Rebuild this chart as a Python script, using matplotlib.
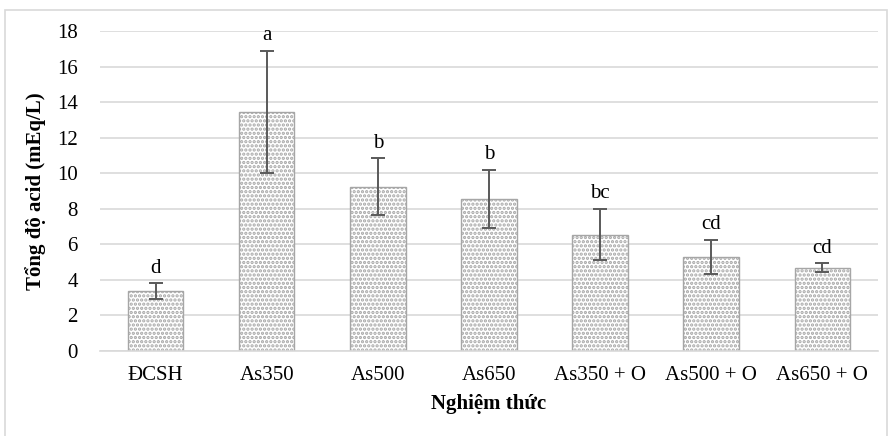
import matplotlib
matplotlib.use("Agg")
import matplotlib.pyplot as plt
from matplotlib.patches import Rectangle

# data
treatments = ["ĐCSH", "As350", "As500", "As650", "As350 + O", "As500 + O", "As650 + O"]
means = [3.35, 13.45, 9.25, 8.55, 6.55, 5.3, 4.68]
errors = [0.45, 3.45, 1.6, 1.65, 1.45, 0.97, 0.25]
letters = ["d", "a", "b", "b", "bc", "cd", "cd"]
yticks = [0, 2, 4, 6, 8, 10, 12, 14, 16, 18]

GRID = "#d9d9d9"
ERR = "#595959"

plt.rcParams["font.family"] = ["Liberation Serif", "DejaVu Serif"]
plt.rcParams["hatch.color"] = "#1a1a1a"
plt.rcParams["hatch.linewidth"] = 1.6

fig = plt.figure(figsize=(8.89, 4.36), dpi=100)
ax = fig.add_axes([0.1125, 0.195, 0.875, 0.734])

# outer chart border (cut off at the bottom in the reference)
fig.patches.append(Rectangle((5 / 889, -0.1), 882 / 889, 1.1 - 10 / 436,
                             transform=fig.transFigure, fill=False,
                             edgecolor=GRID, linewidth=1.2, zorder=0))

x = range(len(treatments))
ax.bar(x, means, width=0.5, color="white", edgecolor="#a6a6a6",
       linewidth=1.0, hatch="....", zorder=2)
ax.errorbar(x, means, yerr=errors, fmt="none", ecolor=ERR, elinewidth=1.4,
            capsize=5, capthick=1.4, zorder=3)

for xi, m, e, lab in zip(x, means, errors, letters):
    ax.text(xi, m + e + 0.3, lab, ha="center", va="bottom", fontsize=15)

ax.set_xlim(-0.5, len(treatments) - 0.5)
ax.set_ylim(0, 18)
ax.set_yticks(yticks)
ax.set_xticks(list(x))
ax.set_xticklabels(treatments)
ax.tick_params(axis="both", length=0, labelsize=15)
ax.tick_params(axis="x", pad=11)
ax.tick_params(axis="y", pad=16)
ax.yaxis.grid(True, color=GRID, linewidth=1.2, zorder=0)
ax.set_axisbelow(True)
for s in ["top", "right", "left"]:
    ax.spines[s].set_visible(False)
ax.spines["bottom"].set_color(GRID)
ax.spines["bottom"].set_linewidth(1.2)

ax.set_xlabel("Nghiệm thức", fontsize=15, fontweight="bold", labelpad=6)
ax.set_ylabel("Tổng độ acid (mEq/L)", fontsize=15, fontweight="bold", labelpad=8)

fig.savefig("out.png", dpi=100)
